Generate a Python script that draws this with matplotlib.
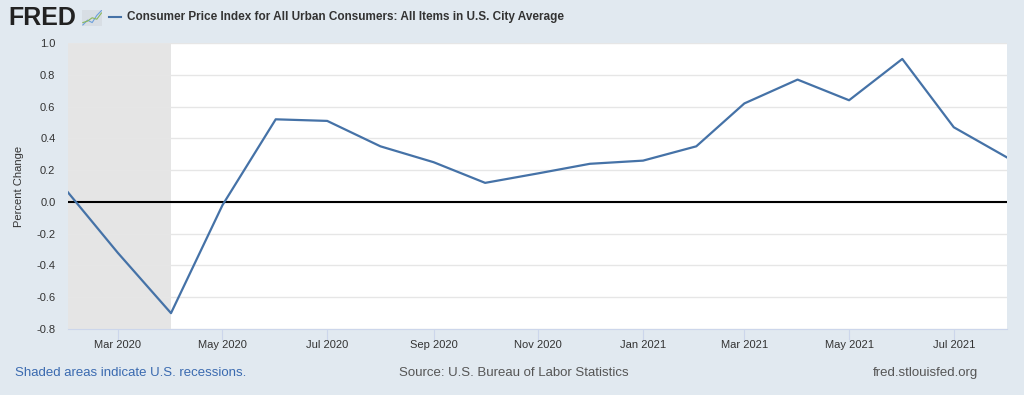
import pandas as pd
import matplotlib.pyplot as plt
import matplotlib.dates as mdates

plt.rcParams['font.family'] = ['Liberation Sans', 'DejaVu Sans']

# Monthly percent change, CPI-U
months = pd.date_range("2020-02-01", "2021-08-01", freq="MS")
pct_change = [0.06, -0.32, -0.70, -0.02, 0.52, 0.51, 0.35, 0.25, 0.12, 0.18,
              0.24, 0.26, 0.35, 0.62, 0.77, 0.64, 0.90, 0.47, 0.28]
recession = (pd.Timestamp("2020-02-01"), pd.Timestamp("2020-04-01"))
yticks = [-0.8, -0.6, -0.4, -0.2, 0.0, 0.2, 0.4, 0.6, 0.8, 1.0]

bg = "#e1e9f0"
line_col = "#4572a7"

fig = plt.figure(figsize=(10.24, 3.95), dpi=100, facecolor=bg)
ax = fig.add_axes([0.0664, 0.167, 0.917, 0.724])
ax.set_facecolor("white")

ax.axvspan(*recession, color="#e5e5e5", zorder=0, lw=0)
ax.plot(months, pct_change, color=line_col, lw=1.6, zorder=3)
ax.axhline(0, color="black", lw=1.5, zorder=2)

ax.set_xlim(months[0], months[-1])
ax.set_ylim(-0.8, 1.0)
ax.set_yticks(yticks)
ax.set_yticklabels([f"{v:.1f}" for v in yticks])
ax.grid(axis="y", color="#e6e6e6", lw=1)
ax.set_axisbelow(True)

ax.xaxis.set_major_locator(mdates.MonthLocator(bymonth=[1, 3, 5, 7, 9, 11]))
ax.xaxis.set_major_formatter(mdates.DateFormatter("%b %Y"))

for s in ["top", "right", "left"]:
    ax.spines[s].set_visible(False)
ax.spines["bottom"].set_color("#ccd6eb")
ax.tick_params(axis="x", length=8, color="#ccd6eb", labelsize=8, labelcolor="#333333", pad=0)
ax.tick_params(axis="y", length=0, labelsize=8, labelcolor="#333333", pad=9)
ax.set_ylabel("Percent Change", fontsize=8, color="#333333", labelpad=9)

# header
fig.text(0.008, 0.955, "FRED", fontsize=18, fontweight="bold", color="#222222", va="center")
icon = fig.add_axes([0.080, 0.935, 0.02, 0.04])
icon.set_facecolor("#d8dee4")
icon.plot([0, 1, 2, 3, 4], [0, 1, 0.5, 2, 3], color="#6ca0dc", lw=0.8)
icon.plot([0, 1, 2, 3, 4], [0.5, 0.8, 1.5, 1.2, 2.5], color="#8ab85e", lw=0.8)
icon.set_xticks([]); icon.set_yticks([])
for s in icon.spines.values():
    s.set_visible(False)
fig.add_artist(plt.Line2D([0.106, 0.118], [0.957, 0.957], color=line_col, lw=1.5))
fig.text(0.124, 0.957, "Consumer Price Index for All Urban Consumers: All Items in U.S. City Average",
         fontsize=8.5, fontweight="bold", color="#333333", va="center")

# footer
fig.text(0.015, 0.055, "Shaded areas indicate U.S. recessions.", fontsize=9.5, color="#3a6ab0", va="center")
fig.text(0.39, 0.055, "Source: U.S. Bureau of Labor Statistics", fontsize=9.5, color="#555555", va="center")
fig.text(0.955, 0.055, "fred.stlouisfed.org", fontsize=9.5, color="#555555", va="center", ha="right")

fig.savefig("out.png", dpi=100, facecolor=bg)
